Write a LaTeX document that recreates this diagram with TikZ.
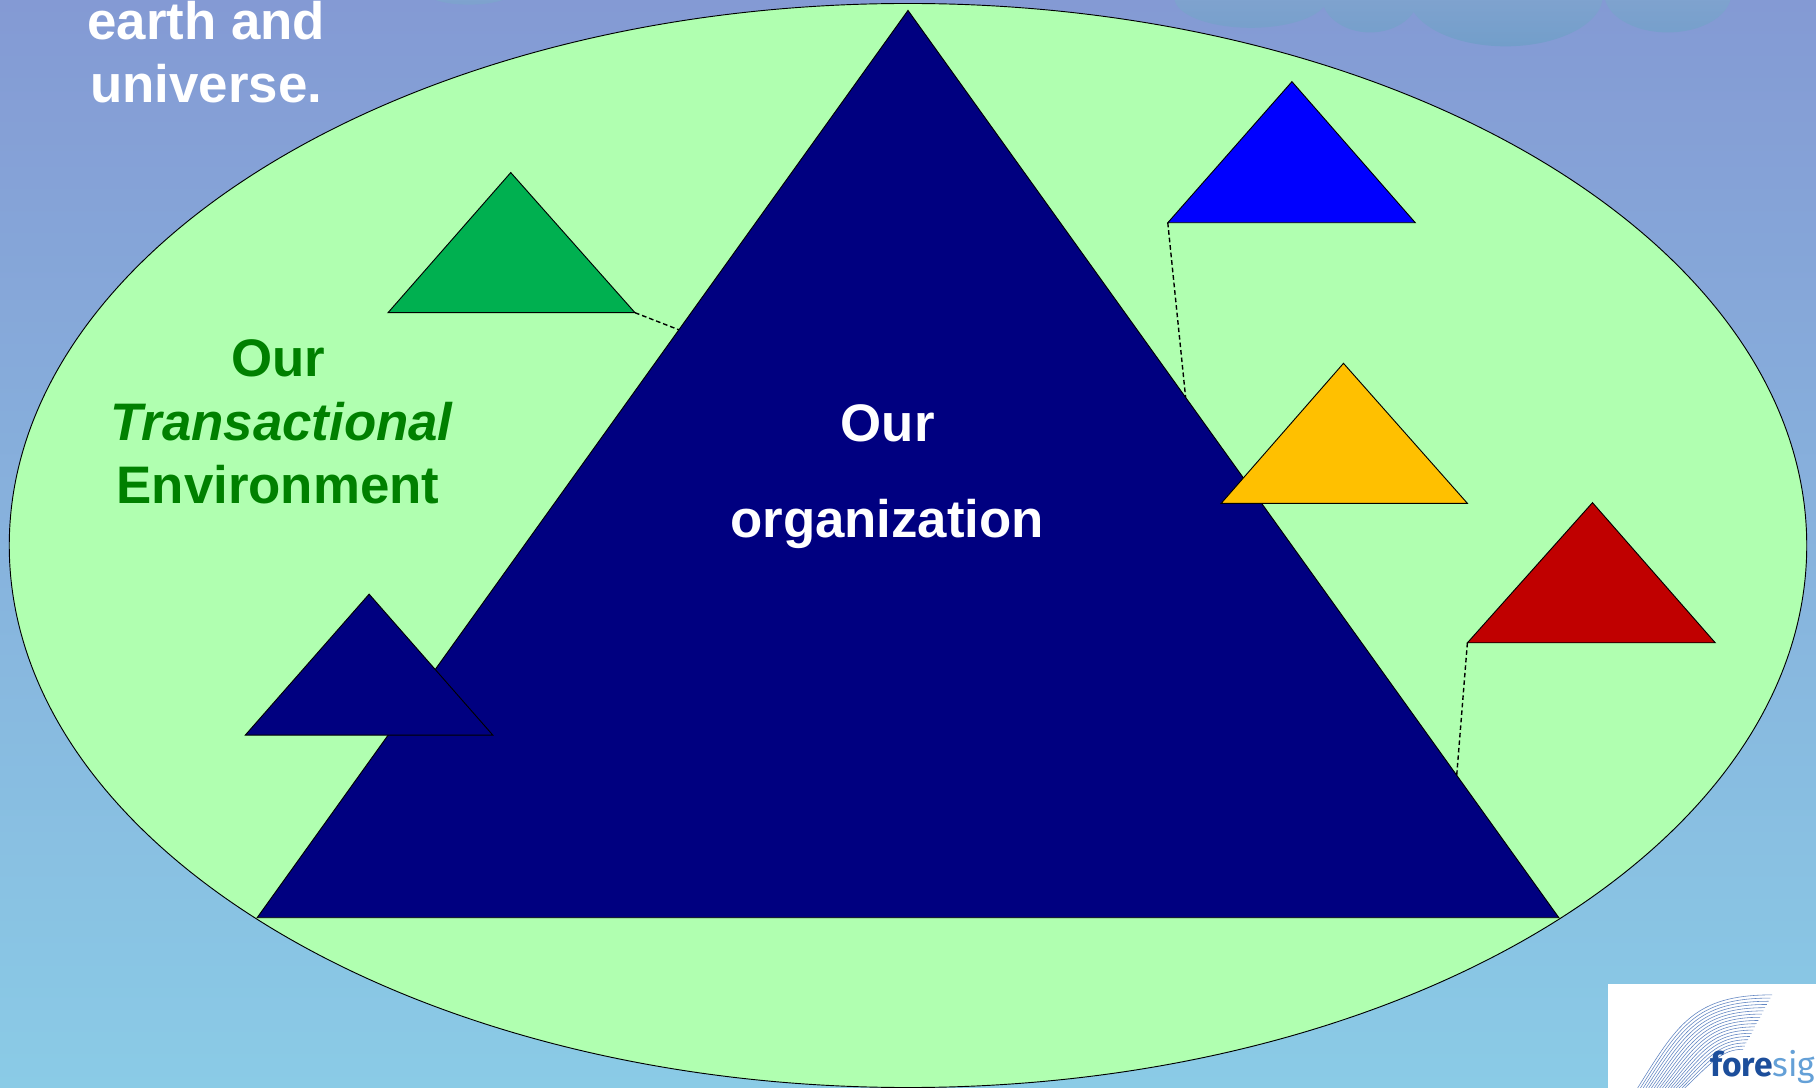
\documentclass[tikz,border=0pt]{standalone}
\usepackage{fontspec}
\usetikzlibrary{calc}
\setmainfont{Liberation Sans}
\newfontfamily\logofont{Fira Sans}
\definecolor{bgtop}{RGB}{132,154,212}
\definecolor{bgbot}{RGB}{138,203,230}
\definecolor{cloudtop}{RGB}{142,168,212}
\definecolor{cloudbot}{RGB}{114,158,202}
\definecolor{envfill}{RGB}{176,255,176}
\definecolor{navy}{RGB}{0,0,128}
\definecolor{tgreen}{RGB}{0,176,80}
\definecolor{tblue}{RGB}{0,0,255}
\definecolor{tyellow}{RGB}{255,192,0}
\definecolor{tred}{RGB}{192,0,0}
\definecolor{txtgreen}{RGB}{0,128,0}
\definecolor{logodark}{RGB}{28,78,155}
\definecolor{logolight}{RGB}{100,160,215}
\definecolor{logoline}{RGB}{60,105,180}
\tikzset{
  shapeline/.style={draw=black, line width=0.8pt, line join=miter},
  link/.style={draw=black, line width=1.2pt, dash pattern=on 4pt off 2.5pt},
  bigtext/.style={font=\fontsize{45.6}{54.7}\selectfont\bfseries, anchor=base, inner sep=0pt},
}
\begin{document}
\begin{tikzpicture}[x=1pt,y=-1pt]
\useasboundingbox (0,0) rectangle (1568,938.6);
\clip (0,0) rectangle (1568,938.6);
% background
\shade[top color=bgtop, bottom color=bgbot] (0,0) rectangle (1568,938.6);
% clouds
\shade[top color=cloudtop, bottom color=cloudbot]
  (1080,-2) ellipse [x radius=66pt, y radius=26pt]
  (1183,-4) ellipse [x radius=42pt, y radius=32pt]
  (1300,-4) ellipse [x radius=84pt, y radius=44pt]
  (1440,-6) ellipse [x radius=55pt, y radius=34pt]
  (405,-6) ellipse [x radius=36pt, y radius=10pt];
% transactional environment
\draw[fill=envfill, draw=black, line width=0.8pt] (784,471) ellipse [x radius=776pt, y radius=468pt];
% main triangle
\coordinate (mA) at (784,9);
\coordinate (mL) at (222,792.4);
\coordinate (mR) at (1346,792.4);
\filldraw[shapeline, fill=navy] (mA) -- (mL) -- (mR) -- cycle;
% small triangles
\coordinate (gA) at (441,149);   \coordinate (gL) at (335,270);    \coordinate (gR) at (548.3,270);
\coordinate (bA) at (1115.5,70.5); \coordinate (bL) at (1008.3,192.3); \coordinate (bR) at (1222,192.3);
\coordinate (yA) at (1160,313.7); \coordinate (yL) at (1054.4,434.6); \coordinate (yR) at (1267,434.6);
\coordinate (rA) at (1375,434);  \coordinate (rL) at (1267,555);   \coordinate (rR) at (1481,555);
\coordinate (nA) at (318.7,513); \coordinate (nL) at (211.8,634.7); \coordinate (nR) at (425.5,634.7);
\filldraw[shapeline, fill=tgreen] (gA) -- (gL) -- (gR) -- cycle;
\filldraw[shapeline, fill=tblue] (bA) -- (bL) -- (bR) -- cycle;
\filldraw[shapeline, fill=tyellow] (yA) -- (yL) -- (yR) -- cycle;
\filldraw[shapeline, fill=tred] (rA) -- (rL) -- (rR) -- cycle;
\filldraw[shapeline, fill=navy] (nA) -- (nL) -- (nR) -- cycle;
% dashed links to the main triangle edges
\coordinate (gE) at ($(mA)!0.352!(mL)$);
\coordinate (bE) at ($(mA)!0.4265!(mR)$);
\coordinate (rE) at ($(mA)!0.843!(mR)$);
\draw[link] (gR) -- (gE);
\draw[link] (bL) -- (bE);
\draw[link] (rL) -- (rE);
% texts
\node[bigtext, text=white] (earth) at (178,34) {earth and};
\node[bigtext, text=white] (univ) at (178,88.7) {universe.};
\node[bigtext, text=txtgreen] (envA) at (240,324.7) {Our};
\node[bigtext, text=txtgreen, font=\fontsize{45.6}{54.7}\selectfont\bfseries\itshape] (envB) at (243,380) {Transactional};
\node[bigtext, text=txtgreen] (envC) at (240,435) {Environment};
\node[bigtext, text=white] (orgA) at (766.5,380.8) {Our};
\node[bigtext, text=white] (orgB) at (766,463.7) {organization};
% logo
\fill[white] (1388,849.7) rectangle (1570,940);
\foreach \i in {0,...,17}{
  \pgfmathsetmacro{\t}{\i/17}
  \draw[logoline, line width=0.5pt, opacity=0.8]
    ({1413+40*\t},941) .. controls ({1448+30*\t},{885+32*\t}) and ({1462+25*\t},{859+47*\t}) .. ({1530-25*\t},{859+47*\t});
}
\node[anchor=base west, inner sep=0pt, font=\logofont\fontsize{29}{32}\selectfont] (logo) at (1476.6,929.7)
  {\textcolor{logodark}{\bfseries fore}\textcolor{logolight}{sig}};
\end{tikzpicture}
\end{document}
